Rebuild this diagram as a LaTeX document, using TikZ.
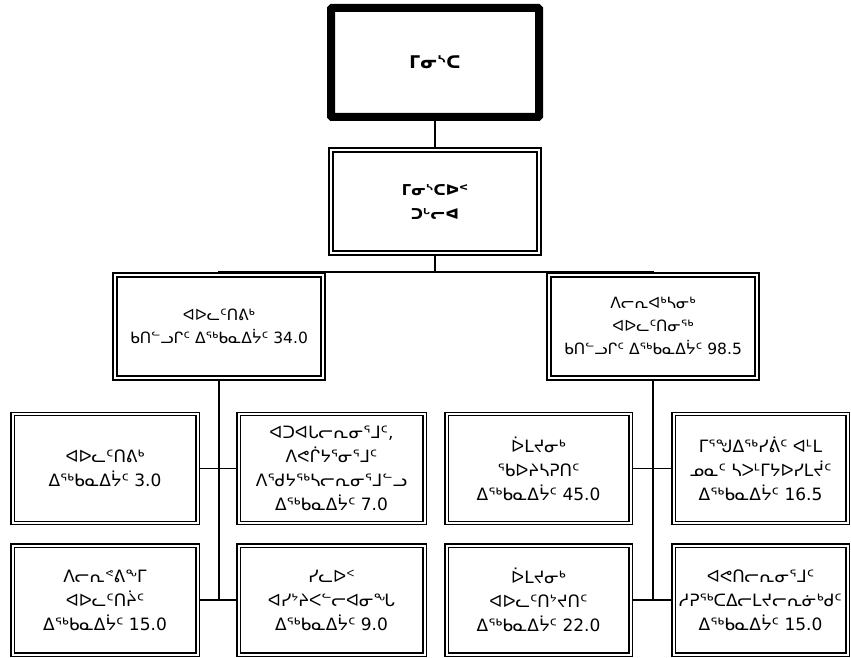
\documentclass[tikz,border=0pt]{standalone}
\usepackage{fontspec}
\setmainfont{DejaVu Sans}
\usetikzlibrary{backgrounds}
\tikzset{
  topbox/.style={draw, line width=8pt, rounded corners=1pt, fill=white,
    minimum width=208pt, minimum height=109pt, align=center, font=\bfseries\fontsize{17.5}{24}\selectfont},
  headbox/.style={draw, fill=white, line width=2pt, double=white, double distance=2pt,
    minimum width=208pt, minimum height=103pt, align=center, font=\fontsize{15.5}{23}\selectfont},
  unitbox/.style={draw, fill=white, line width=1.3pt, double=white, double distance=2pt,
    minimum height=109pt, align=center, font=\fontsize{17}{24}\selectfont},
  link/.style={line width=1.4pt}
}
\begin{document}
\begin{tikzpicture}[x=1pt, y=-1pt]
\useasboundingbox (0,0) rectangle (851,658);
% top of the chart
\node[topbox] (minister) at (435,62.5) {ᒥᓂᔅᑕ};
\node[headbox, font=\bfseries\fontsize{15}{24}\selectfont] (deputy) at (435,201.5) {ᒥᓂᔅᑕᐅᑉ\\ᑐᒡᓕᐊ};
% divisions
\node[headbox] (directorate) at (219,326) {ᐊᐅᓚᑦᑎᕕᒃ\\ᑲᑎᓪᓗᒋᑦ ᐃᖅᑲᓇᐃᔮᑦ 34.0};
\node[headbox] (programs) at (653,326) {ᐱᓕᕆᐊᒃᓴᓂᒃ\\ᐊᐅᓚᑦᑎᓂᖅ\\ᑲᑎᓪᓗᒋᑦ ᐃᖅᑲᓇᐃᔮᑦ 98.5};
% sections, left
\node[unitbox, minimum width=185pt] (dirstaff) at (105,468.5) {ᐊᐅᓚᑦᑎᕕᒃ\\ᐃᖅᑲᓇᐃᔮᑦ 3.0};
\node[unitbox, minimum width=186pt] (policy) at (331.5,468.5) {ᐊᑐᐊᒐᓕᕆᓂᕐᒧᑦ,\\ᐱᕙᒌᔭᕐᓂᕐᒧᑦ\\ᐱᖁᔭᖅᓴᓕᕆᓂᕐᒧᓪᓗ\\ᐃᖅᑲᓇᐃᔮᑦ 7.0};
\node[unitbox, minimum width=185pt] (regional) at (105,600) {ᐱᓕᕆᕝᕕᖕᒥ\\ᐊᐅᓚᑦᑎᔩᑦ\\ᐃᖅᑲᓇᐃᔮᑦ 15.0};
\node[unitbox, minimum width=186pt] (climate) at (331.5,600) {ᓯᓚᐅᑉ\\ᐊᓯᔾᔨᐸᓪᓕᐊᓂᖓ\\ᐃᖅᑲᓇᐃᔮᑦ 9.0};
% sections, right
\node[unitbox, minimum width=184pt] (wildres) at (538.5,468.5) {ᐆᒪᔪᓂᒃ\\ᖃᐅᔨᓴᕈᑎᑦ\\ᐃᖅᑲᓇᐃᔮᑦ 45.0};
\node[unitbox, minimum width=174pt] (parks) at (760.5,468.5) {ᒥᕐᖑᐃᖅᓯᕖᑦ ᐊᒻᒪ\\ᓄᓇᑦ ᓴᐳᒻᒥᔭᐅᓯᒪᔫᑦ\\ᐃᖅᑲᓇᐃᔮᑦ 16.5};
\node[unitbox, minimum width=184pt] (wildmgmt) at (538.5,600) {ᐆᒪᔪᓂᒃ\\ᐊᐅᓚᑦᑎᔾᔪᑎᑦ\\ᐃᖅᑲᓇᐃᔮᑦ 22.0};
\node[unitbox, minimum width=174pt] (envprot) at (760.5,600) {ᐊᕙᑎᓕᕆᓂᕐᒧᑦ\\ᓱᕈᖅᑕᐃᓕᒪᔪᓕᕆᓃᒃᑯᑦ\\ᐃᖅᑲᓇᐃᔮᑦ 15.0};
\coordinate (fork) at (435,272);
\begin{scope}[on background layer]
\draw[link] (minister) -- (deputy);
\draw[link] (deputy) -- (fork);
\draw[link] (directorate) |- (fork) -| (programs);
\draw[link] (directorate) -- (directorate |- regional);
\draw[link] (programs) -- (programs |- wildmgmt);
\draw[link] (dirstaff) -- (policy);
\draw[link] (regional) -- (climate);
\draw[link] (wildres) -- (parks);
\draw[link] (wildmgmt) -- (envprot);
\end{scope}
\end{tikzpicture}
\end{document}
